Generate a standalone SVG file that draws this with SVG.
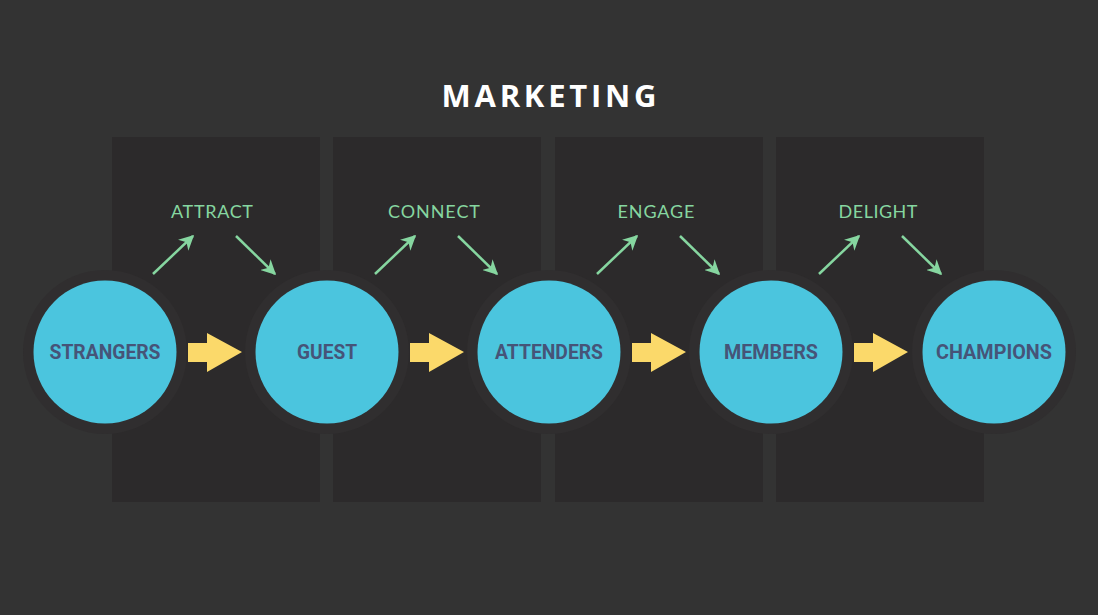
<svg xmlns="http://www.w3.org/2000/svg" width="1098" height="615" viewBox="0 0 1098 615">
<defs>
<style>
.panel{fill:#2c2a2b}
.ring{fill:#302e2f}
.disc{fill:#4bc5de}
.nlabel{font-family:Roboto,"Liberation Sans",sans-serif;font-weight:bold;font-size:21px;fill:#465478;text-anchor:middle}
.step{font-family:Lato,"Open Sans","Liberation Sans",sans-serif;font-size:18px;fill:#86d6a0;text-anchor:middle}
.garrow{stroke:#86d6a0;stroke-width:2.5;fill:none;marker-end:url(#gh)}
.yarrow{fill:#fbd96a}
</style>
<marker id="gh" viewBox="0 0 10 10" refX="9" refY="5" markerWidth="6" markerHeight="6" orient="auto" markerUnits="strokeWidth">
<path d="M0,0 L10,5 L0,10 L3,5 z" fill="#86d6a0"/>
</marker>
</defs>
<rect width="1098" height="615" fill="#333333"/>
<g id="title"><text x="549" y="107" font-family="'Open Sans','Liberation Sans',sans-serif" font-weight="bold" font-size="31" fill="#ffffff" text-anchor="middle" textLength="215" lengthAdjust="spacing">MARKETING</text></g>
<g id="panels">
<rect class="panel" x="112" y="137" width="208" height="365"/>
<rect class="panel" x="333" y="137" width="208" height="365"/>
<rect class="panel" x="555" y="137" width="208" height="365"/>
<rect class="panel" x="776" y="137" width="208" height="365"/>
</g>
<g id="connectors">
<polygon class="yarrow" points="188,343 207,343 207,333 242,352 207,372 207,362 188,362"/>
<polygon class="yarrow" points="410,343 429,343 429,333 464,352 429,372 429,362 410,362"/>
<polygon class="yarrow" points="632,343 651,343 651,333 686,352 651,372 651,362 632,362"/>
<polygon class="yarrow" points="854,343 873,343 873,333 908,352 873,372 873,362 854,362"/>
<line class="garrow" x1="153" y1="274" x2="193" y2="236"/>
<line class="garrow" x1="236" y1="236" x2="275" y2="274"/>
<line class="garrow" x1="375" y1="274" x2="415" y2="236"/>
<line class="garrow" x1="458" y1="236" x2="497" y2="274"/>
<line class="garrow" x1="597" y1="274" x2="637" y2="236"/>
<line class="garrow" x1="680" y1="236" x2="719" y2="274"/>
<line class="garrow" x1="819" y1="274" x2="859" y2="236"/>
<line class="garrow" x1="902" y1="236" x2="941" y2="274"/>
</g>
<g id="steps">
<text class="step" x="212" y="218" textLength="82">ATTRACT</text>
<text class="step" x="434" y="218" textLength="92">CONNECT</text>
<text class="step" x="656" y="218" textLength="77">ENGAGE</text>
<text class="step" x="878" y="218" textLength="79">DELIGHT</text>
</g>
<g id="strangers"><circle class="ring" cx="105" cy="352" r="82"/><circle class="disc" cx="105" cy="352" r="71.5"/><text class="nlabel" x="105" y="359" textLength="111" lengthAdjust="spacingAndGlyphs">STRANGERS</text></g>
<g id="guest"><circle class="ring" cx="327" cy="352" r="82"/><circle class="disc" cx="327" cy="352" r="71.5"/><text class="nlabel" x="327" y="359" textLength="60" lengthAdjust="spacingAndGlyphs">GUEST</text></g>
<g id="attenders"><circle class="ring" cx="549" cy="352" r="82"/><circle class="disc" cx="549" cy="352" r="71.5"/><text class="nlabel" x="549" y="359" textLength="108" lengthAdjust="spacingAndGlyphs">ATTENDERS</text></g>
<g id="members"><circle class="ring" cx="771" cy="352" r="82"/><circle class="disc" cx="771" cy="352" r="71.5"/><text class="nlabel" x="771" y="359" textLength="94" lengthAdjust="spacingAndGlyphs">MEMBERS</text></g>
<g id="champions"><circle class="ring" cx="994" cy="352" r="82"/><circle class="disc" cx="994" cy="352" r="71.5"/><text class="nlabel" x="994" y="359" textLength="116" lengthAdjust="spacingAndGlyphs">CHAMPIONS</text></g>
</svg>
